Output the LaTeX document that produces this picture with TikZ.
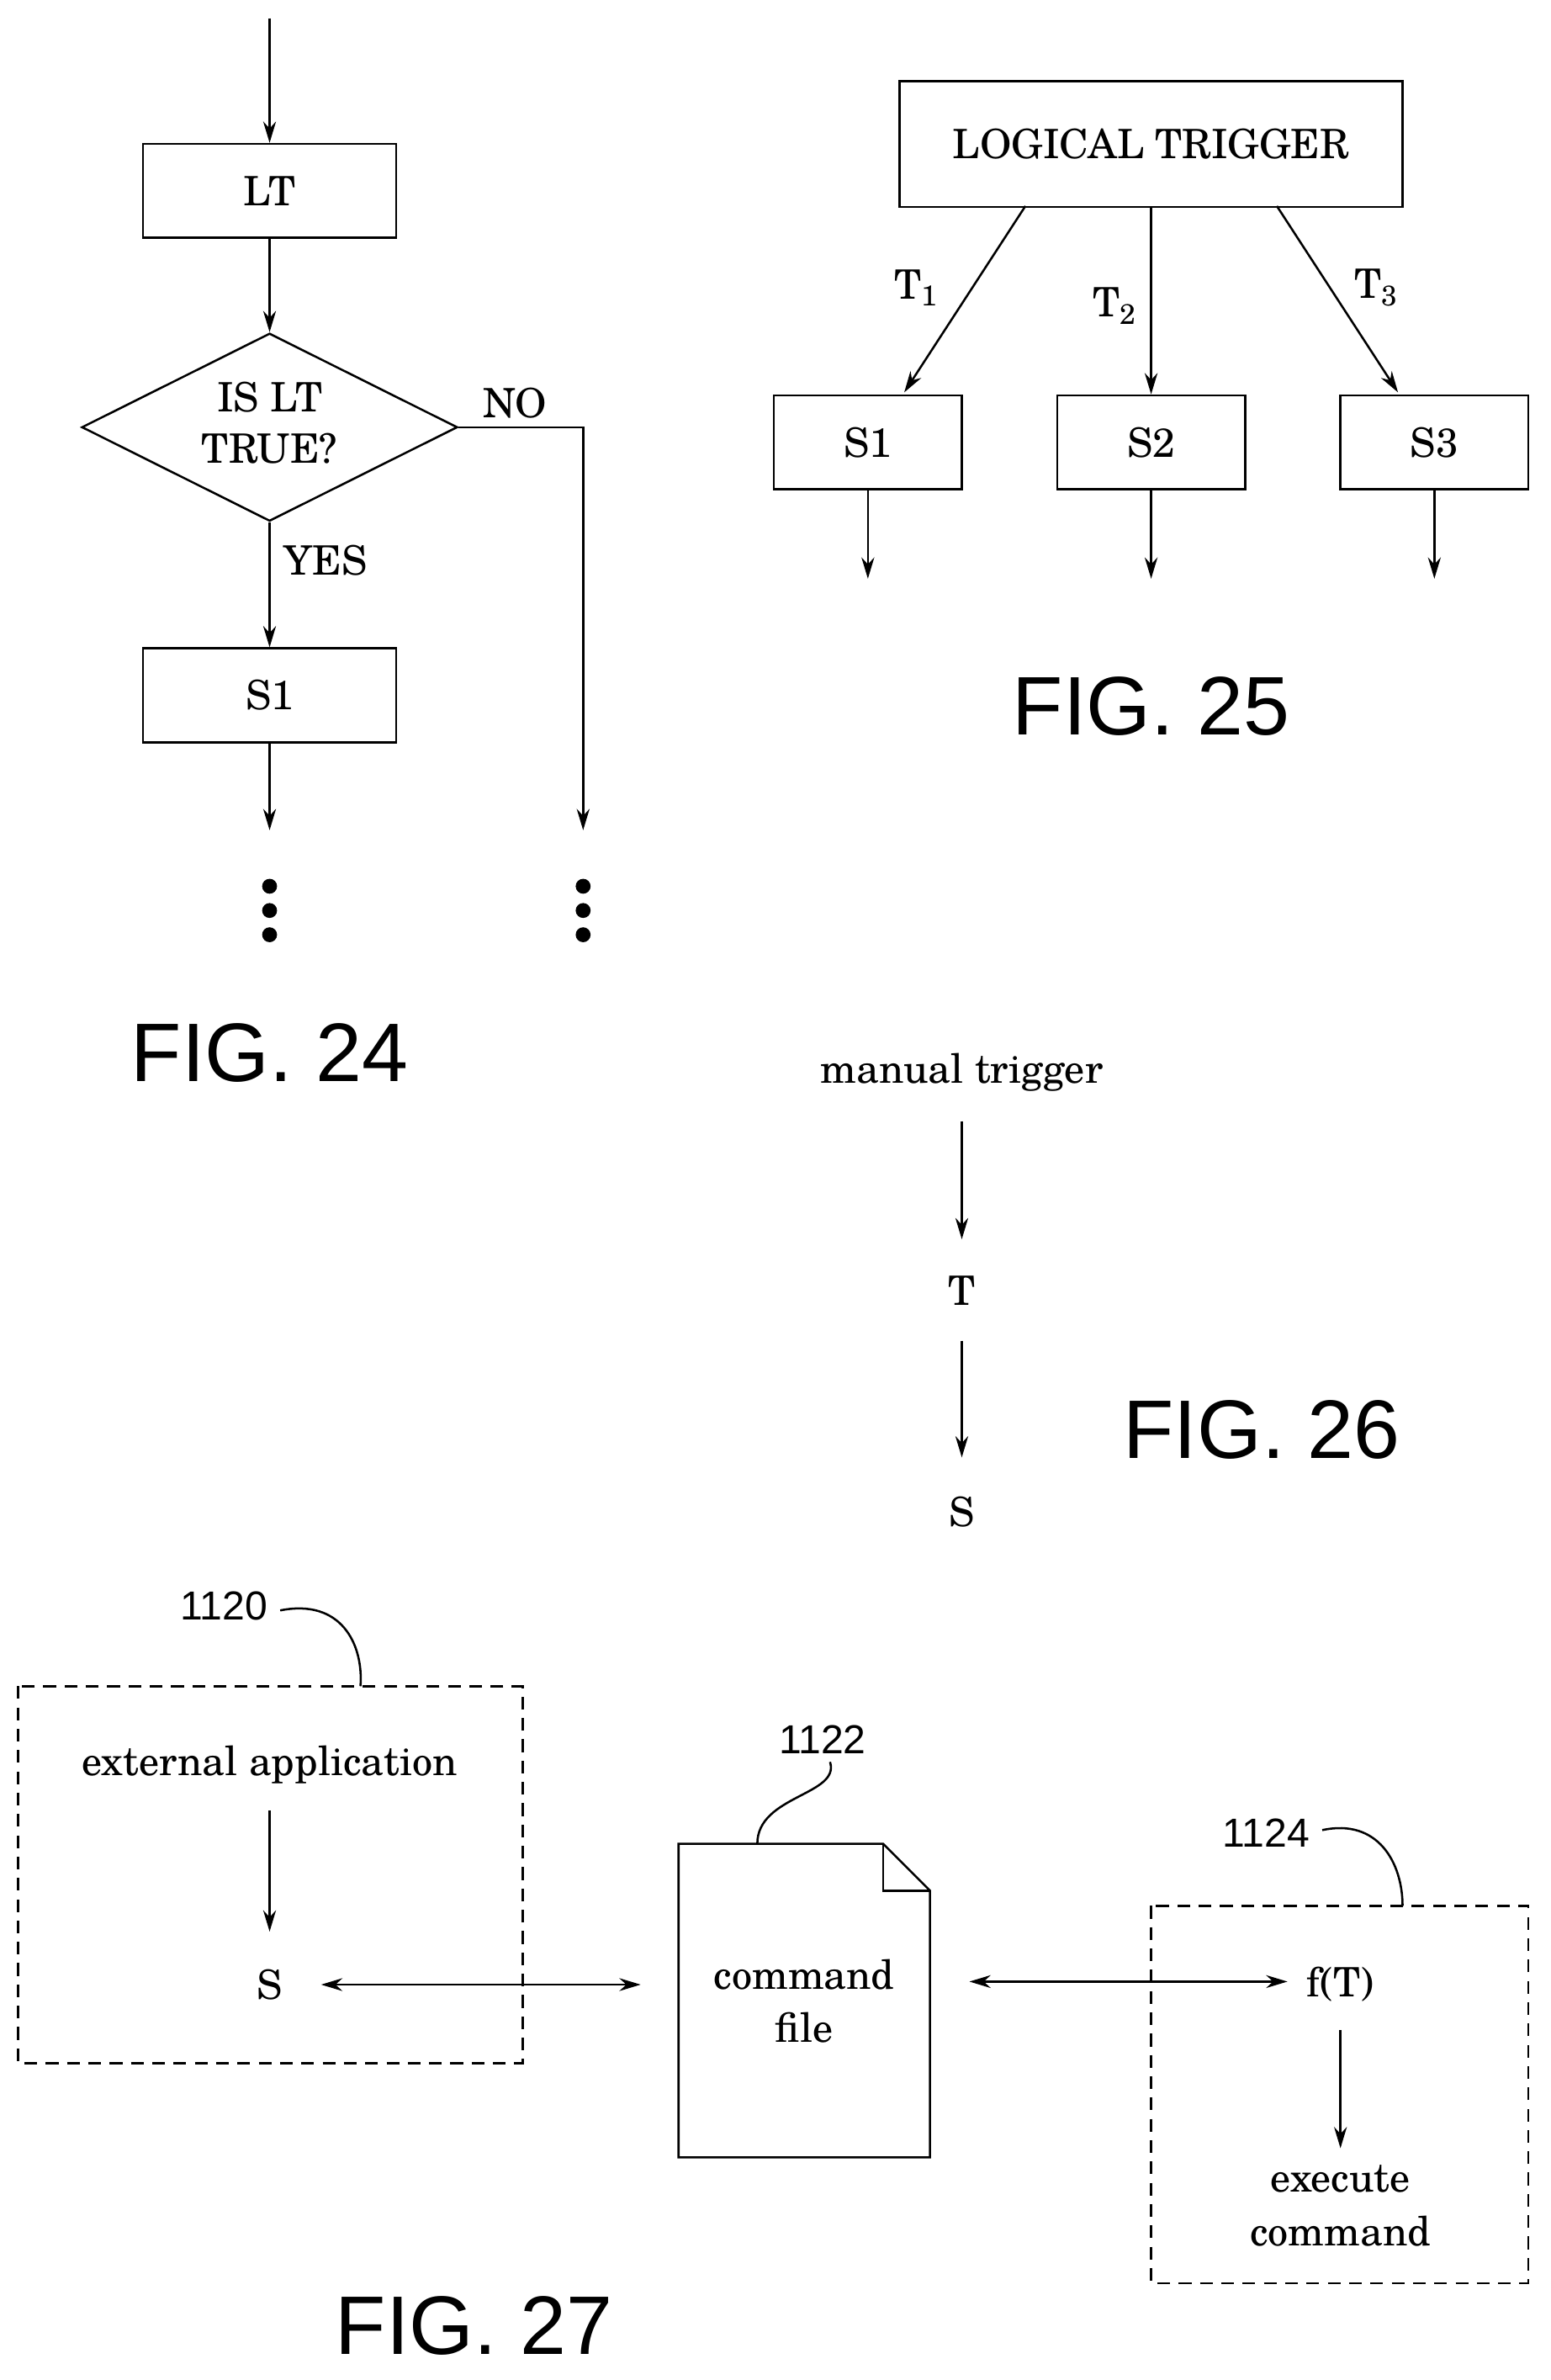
\documentclass[tikz,border=0pt]{standalone}
\usepackage{fontspec}
\setmainfont{TeX Gyre Schola}[Extension=.otf,UprightFont=texgyreschola-regular]
\setsansfont{Liberation Sans}
\usetikzlibrary{arrows.meta,shapes.geometric}
\begin{document}
\begin{tikzpicture}[x=0.025cm,y=-0.025cm,
 box/.style={draw,line width=1pt,minimum width=4.175cm,minimum height=1.55cm,font=\fontsize{19}{22}\selectfont},
 sbox/.style={draw,line width=1pt,minimum width=3.1cm,minimum height=1.55cm,font=\fontsize{19}{22}\selectfont},
 txt/.style={font=\fontsize{19}{23}\selectfont,align=center},
 lab/.style={font=\sffamily\fontsize{19}{22}\selectfont},
 fig/.style={font=\sffamily\fontsize{39}{44}\selectfont},
 ar/.style={line width=1pt,-{Stealth[length=10pt,width=6pt]}},
 dar/.style={line width=1pt,{Stealth[length=10pt,width=6pt]}-{Stealth[length=10pt,width=6pt]}},
 ln/.style={line width=1pt},
 dbox/.style={draw,line width=1pt,dash pattern=on 6pt off 4pt},
 dot/.style={circle,fill,inner sep=0pt,minimum size=7pt}]
\useasboundingbox (0,0) rectangle (1024,1571);
% FIG 24
\coordinate (top24) at (178,12);
\node[box] (lt) at (178,126) {LT};
\node[diamond,draw,line width=1pt,aspect=2,minimum width=6.2cm,minimum height=3.1cm,inner sep=0pt] (dia) at (178,282) {};
\node[txt] at (178,262) {IS LT};
\node[txt] at (178,296) {TRUE?};
\node[txt] at (340,266) {NO};
\node[txt] at (215,370) {YES};
\node[box] (s1a) at (178,459) {S1};
\coordinate (e1) at (178,548);
\coordinate (c1) at (385,282);
\coordinate (e2) at (385,548);
\draw[ar] (top24) -- (lt);
\draw[ar] (lt) -- (dia.north);
\draw[ar] (dia.south) -- (s1a);
\draw[ar] (s1a) -- (e1);
\draw[ar] (dia.east) -- (c1) -- (e2);
\foreach \y/\n in {585/a,601/b,617/c}{\node[dot] (d1\n) at (178,\y) {}; \node[dot] (d2\n) at (385,\y) {};}
\node[fig] (f24) at (178,695) {FIG. 24};
% FIG 25
\node[draw,line width=1pt,minimum width=8.3cm,minimum height=2.075cm,font=\fontsize{19}{22}\selectfont] (ltr) at (760,95) {LOGICAL TRIGGER};
\node[sbox] (b1) at (573,292) {S1};
\node[sbox] (b2) at (760,292) {S2};
\node[sbox] (b3) at (947,292) {S3};
\draw[ar] (677,136) -- (597,259);
\draw[ar] (ltr.south) -- (b2.north);
\draw[ar] (843,136) -- (923,259);
\node[txt] at (605,190) {T\textsubscript{1}};
\node[txt] at (736,202) {T\textsubscript{2}};
\node[txt] at (909,190) {T\textsubscript{3}};
\foreach \i/\x in {1/573,2/760,3/947}{\coordinate (o\i) at (\x,382); \draw[ar] (b\i) -- (o\i);}
\node[fig] (f25) at (760,466) {FIG. 25};
% FIG 26
\node[txt] (mt) at (635,708) {manual trigger};
\node[txt] (t) at (635,852) {T};
\node[txt] (s) at (635,998) {S};
\draw[ar] (635,740) -- (635,818);
\draw[ar] (635,885) -- (635,962);
\node[fig] (f26) at (833,944) {FIG. 26};
% FIG 27
\draw[dbox] (12,1113) rectangle (345,1362);
\draw[dbox] (760,1258) rectangle (1009,1507);
\node[lab] (l1120) at (148,1060) {1120};
\draw[ln] (185,1063) .. controls (225,1055) and (240,1085) .. (238,1113);
\node[txt] (ext) at (178,1165) {external application};
\node[txt] (s27) at (178,1310) {S};
\draw[ar] (178,1195) -- (178,1275);
\draw[ln] (448,1217) -- (583,1217) -- (614,1248) -- (614,1424) -- (448,1424) -- cycle;
\draw[ln] (583,1217) -- (583,1248) -- (614,1248);
\node[txt] (cf) at (531,1321) {command\\[2pt]file};
\node[lab] (l1122) at (543,1148) {1122};
\draw[ln] (548,1163) .. controls (555,1185) and (500,1185) .. (500,1217);
\draw[dar] (212,1310) -- (423,1310);
\draw[dar] (640,1308) -- (850,1308);
\node[txt] (ft) at (885,1310) {f(T)};
\node[lab] (l1124) at (836,1210) {1124};
\draw[ln] (873,1208) .. controls (910,1200) and (926,1230) .. (926,1258);
\draw[ar] (885,1340) -- (885,1418);
\node[txt] (ec) at (885,1456) {execute\\[2pt]command};
\node[fig] (f27) at (313,1535) {FIG. 27};
\end{tikzpicture}
\end{document}
